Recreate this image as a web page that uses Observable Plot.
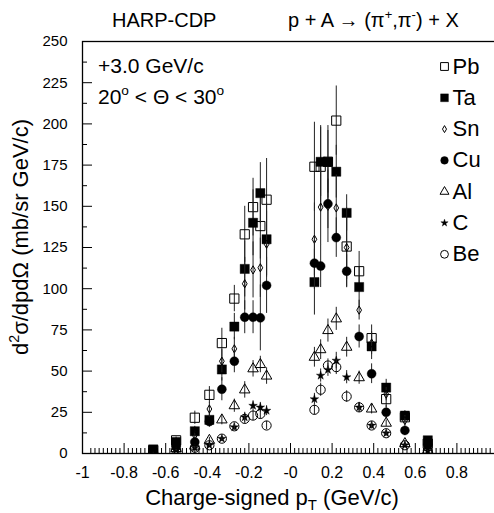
<!DOCTYPE html>
<html><head><meta charset="utf-8">
<script src="https://cdn.jsdelivr.net/npm/d3@7"></script>
<script src="https://cdn.jsdelivr.net/npm/@observablehq/plot@0.6"></script>
<style>
html,body{margin:0;padding:0;background:#fff;overflow:hidden;}
#chart{position:relative;width:494px;height:513px;}
#chart svg{font-family:"Liberation Sans",Arial,Helvetica,sans-serif;max-width:none;}
</style></head><body><div id="chart"></div>
<script>
// charge-signed pT bin centres (GeV/c)
const pT = [-0.66, -0.55, -0.46, -0.39, -0.33, -0.27, -0.22, -0.18, -0.145, -0.115,
             0.115, 0.145, 0.18, 0.22, 0.27, 0.33, 0.39, 0.46, 0.55, 0.66];
const targets = ["Pb", "Ta", "Sn", "Cu", "Al", "C", "Be"];

const pb    = [2, 8, 21.7, 35.6, 67, 94, 133, 149.5, 138, 154, 174, 174, 177, 202, 125.6, 110.6, 70, 33, 22, 6];
const pbErr = [0.8, 2, 4, 5, 9, 8, 17, 17.5, 20, 25, 27, 25, 22, 21, 20, 12, 8, 5, 3, 1.5];
const ta    = [2.5, 7, 13.5, 20.4, 51, 77, 112, 140, 158, 130, 104, 177, 177, 171, 146, 101, 65, 40, 23, 8];
const taErr = [0.8, 2, 3, 4, 7, 8, 17, 20, 18.5, 22, 20, 21, 19, 16, 11, 12, 8, 5, 3, 1.5];
const sn    = [2, 5, 11, 27, 56, 63.5, 103, 111.4, 112.7, 127, 130, 149.5, 150, 149, 125, 87, 67, 36, 20, 4];
const snErr = [0.7, 1.5, 2.5, 4, 7, 7, 16, 17, 18, 20, 22, 23, 22, 20, 24, 6, 7, 4, 3, 1.2];
const cu    = [2, 4, 7, 19.4, 39, 56, 82.7, 82.7, 82.3, 102, 115.5, 113.7, 151.5, 131, 110.6, 71, 48.4, 25, 14, 5];
const cuErr = [0.6, 1.2, 2, 3.5, 7, 7, 10, 10, 20, 17, 16, 13, 15, 12, 10, 7, 6, 4, 3, 1];
const al    = [1, 3, 4.5, 8, 20.4, 29, 38.6, 51.4, 54, 47, 58.4, 63, 74.6, 81.7, 64.5, 46, 27, 18.4, 6, 2];
const alErr = [0.4, 0.8, 1.2, 1.8, 3, 4, 5, 5, 5, 5, 6, 6, 7, 7, 6, 4, 3, 2, 1, 0.5];
const c     = [0.5, 2, 3.5, 5, 9, 16, 22, 29, 28, 26, 33, 47.3, 50.8, 56.4, 46.3, 28, 17, 12.3, 5, 1.5];
const cErr  = [0.2, 0.5, 0.8, 1, 1.5, 2, 3, 3, 3, 3, 3.5, 4, 4, 5, 4, 3, 2, 1.5, 0.8, 0.3];
const be    = [0.5, 2, 3.5, 5, 9, 16.5, 21, 23, 24, 17, 26.5, 38.7, 53.4, 52.4, 34.6, 28, 17, 12.3, 5, 1.5];
const beErr = [0.2, 0.5, 0.8, 1, 1.5, 2, 3, 3, 3, 2.5, 3, 4, 4, 4.5, 3.5, 3, 2, 1.5, 0.8, 0.3];

const xTicks = [-1, -0.8, -0.6, -0.4, -0.2, 0, 0.2, 0.4, 0.6, 0.8, 1];
const xTickLabels = ["-1", "-0.8", "-0.6", "-0.4", "-0.2", "-0", "0.2", "0.4", "0.6", "0.8", "1"];
const yTicks = [0, 25, 50, 75, 100, 125, 150, 175, 200, 225, 250];
const yTickLabels = ["0", "25", "50", "75", "100", "125", "150", "175", "200", "225", "250"];

const values = {Pb: pb, Ta: ta, Sn: sn, Cu: cu, Al: al, C: c, Be: be};
const errors = {Pb: pbErr, Ta: taErr, Sn: snErr, Cu: cuErr, Al: alErr, C: cErr, Be: beErr};
const style = {
  Pb: {symbol: "square",   r: 5.2, fill: "none"},
  Ta: {symbol: "square",   r: 5.2, fill: "black"},
  Sn: {symbol: "diamond",  r: 2.5, fill: "none"},
  Cu: {symbol: "circle",   r: 4.5, fill: "black"},
  Al: {symbol: "triangle", r: 3.9, fill: "none"},
  C:  {symbol: "star",     r: 2.7, fill: "black"},
  Be: {symbol: "circle",   r: 4.6, fill: "none"}
};

const xMinor = d3.range(-48, 49).map(k => k / 50).filter(v => Math.abs(v * 5 - Math.round(v * 5)) > 1e-6 && Math.abs(v) < 1);
const yMinor = yTicks.slice(0, -1).map(v => v + 12.5);

const marks = [];
for (const t of targets) {
  const rows = pT.map((x, i) => ({x, y: values[t][i], e: errors[t][i]}));
  marks.push(Plot.ruleX(rows, {x: "x", y1: d => Math.max(0, d.y - d.e), y2: d => d.y + d.e, stroke: "#222", strokeWidth: 1, clip: true}));
  const s = style[t];
  marks.push(Plot.dot(rows, {x: "x", y: "y", symbol: s.symbol, r: s.r, fill: s.fill, stroke: "black", strokeWidth: s.fill === "none" ? 1 : 0.4, clip: true}));
}
targets.forEach((t, i) => {
  const s = style[t];
  const dy = 25 + i * 31.3;
  marks.push(Plot.dot([t], {frameAnchor: "top-right", dx: -54, dy, symbol: s.symbol, r: s.r * 0.85, fill: s.fill, stroke: "black", strokeWidth: s.fill === "none" ? 1 : 0.4}));
  marks.push(Plot.text([t], {frameAnchor: "top-right", dx: -46, dy, text: d => d, textAnchor: "start", lineAnchor: "middle", fontSize: 22, fill: "black"}));
});

const plot = Plot.plot({
  width: 494, height: 513,
  marginLeft: 82, marginRight: -4, marginTop: 41, marginBottom: 60,
  x: {domain: [-1, 1], range: [82, 498], label: null},
  y: {domain: [0, 250], range: [453, 41], label: null},
  style: {background: "white", color: "black", fontFamily: "Liberation Sans, Arial, sans-serif", overflow: "hidden"},
  marks: [
    Plot.frame({stroke: "black", strokeWidth: 1.3}),
    Plot.axisX({ticks: xTicks, tickSize: 10, dy: -10, tickFormat: () => "", label: null, stroke: "black"}),
    Plot.axisX({ticks: xMinor, tickSize: 5, dy: -5, tickFormat: () => "", label: null, stroke: "black"}),
    Plot.axisX({ticks: xTicks, tickSize: 0, tickPadding: 13, tickFormat: d => xTickLabels[xTicks.indexOf(d)], fontSize: 16, fill: "black", label: null}),
    Plot.axisY({ticks: yTicks, tickSize: 10, dx: 10, tickFormat: () => "", label: null, stroke: "black"}),
    Plot.axisY({ticks: yMinor, tickSize: 5, dx: 5, tickFormat: () => "", label: null, stroke: "black"}),
    Plot.axisY({ticks: yTicks, tickSize: 0, tickPadding: 15, tickFormat: d => yTickLabels[yTicks.indexOf(d)], fontSize: 15, fill: "black", label: null}),
    ...marks
  ]
});
document.getElementById("chart").appendChild(plot);

const svg = d3.select(plot);
const fam = "Liberation Sans, Arial, sans-serif";
function txt(x, y, size) {
  return svg.append("text").attr("x", x).attr("y", y).attr("font-size", size)
    .attr("font-family", fam).attr("fill", "black").attr("text-anchor", "start");
}
function sup(sel, s, size) {
  sel.append("tspan").attr("dy", -size * 0.42).attr("font-size", size * 0.65).text(s);
  return sel;
}
function back(sel, s, size) {
  sel.append("tspan").attr("dy", size * 0.42).text(s);
  return sel;
}
txt(112, 27, 20).text("HARP-CDP");
{
  const t = txt(288, 27, 20);
  t.append("tspan").text("p + A \u2192 (\u03c0");
  sup(t, "+", 20); back(t, ",\u03c0", 20);
  sup(t, "-", 20); back(t, ") + X", 20);
}
txt(98, 73, 21).text("+3.0 GeV/c");
{
  const t = txt(98, 104, 21);
  t.append("tspan").text("20");
  sup(t, "o", 21); back(t, " < \u0398 < 30", 21);
  sup(t, "o", 21);
}
{
  const t = txt(272, 505, 22).attr("text-anchor", "middle");
  t.append("tspan").text("Charge-signed p");
  t.append("tspan").attr("dy", 5).attr("font-size", 15).text("T");
  t.append("tspan").attr("dy", -5).text(" (GeV/c)");
}
{
  const t = svg.append("text").attr("transform", "translate(28,237) rotate(-90)")
    .attr("text-anchor", "middle").attr("font-size", 22).attr("font-family", fam).attr("fill", "black");
  t.append("tspan").text("d");
  sup(t, "2", 22); back(t, "\u03c3/dpd\u03a9 (mb/sr GeV/c)", 22);
}
</script></body></html>
